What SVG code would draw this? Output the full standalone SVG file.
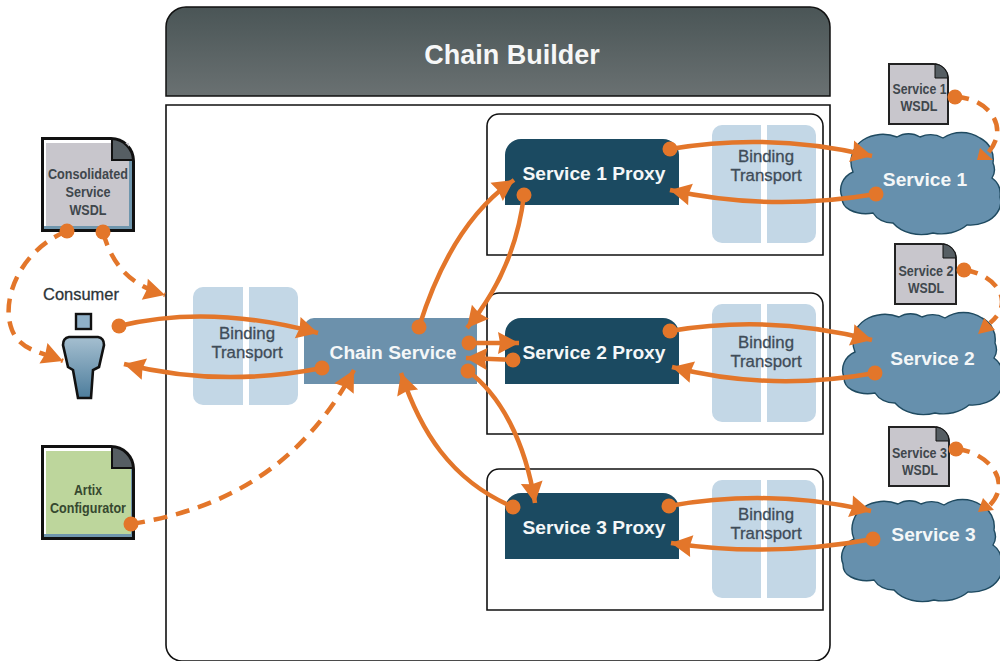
<svg xmlns="http://www.w3.org/2000/svg" width="1000" height="661" viewBox="0 0 1000 661">
<style>
text{font-family:"Liberation Sans",Arial,sans-serif;font-weight:bold;text-anchor:middle}
.wl{fill:#f4f7f8;font-size:19.2px}
.dk{fill:#3f474c;font-size:14.5px}
.gn{fill:#36482f;font-size:14.5px}
.bt{fill:#3f4c58;font-size:16.8px;font-weight:normal;stroke:#3f4c58;stroke-width:.3}
.frame{fill:#fff;stroke:#111;stroke-width:1.6}
.proxy{fill:#1b4a61}
.bind{fill:#c3d7e6}
.gap{fill:#fff}
.c{fill:none;stroke:#e3762a;stroke-width:4.5;marker-end:url(#h);marker-start:url(#d)}
.n{fill:none;stroke:#e3762a;stroke-width:4.5;marker-start:url(#d)}
.dash{stroke-dasharray:14 9}
.head{fill:#e3762a}
.cloud{fill:#6690ad;stroke:#1f4a60;stroke-width:1.4}
.fold{fill:#565e63;stroke:#111;stroke-width:2}
</style>
<defs>
<marker id="h" markerUnits="userSpaceOnUse" markerWidth="24" markerHeight="24" refX="22" refY="12" orient="auto" viewBox="0 0 24 24"><path d="M1 1 L22 12 L1 23 L3 12Z" fill="#e3762a"/></marker>
<marker id="d" markerUnits="userSpaceOnUse" markerWidth="16" markerHeight="16" refX="8" refY="8" viewBox="0 0 16 16"><circle cx="8" cy="8" r="7.5" fill="#e3762a"/></marker>
<linearGradient id="hd" x1="0" y1="0" x2="0" y2="1"><stop offset="0" stop-color="#4a5556"/><stop offset="1" stop-color="#6a7172"/></linearGradient>
<linearGradient id="pg" x1="0" y1="0" x2="0" y2="1"><stop offset="0" stop-color="#a5bfd0"/><stop offset="1" stop-color="#4d7d9c"/></linearGradient>
<path id="cl" d="M0 67 A22 20 0 0 1 11 42 A26 26 0 0 1 21 10 A34 30 0 0 1 55 7 A22 22 0 0 1 78 7 A24 22 0 0 1 101 8 A32 30 0 0 1 138 8 A24 24 0 0 1 151 33 A16 16 0 0 1 150 48 A20 20 0 0 1 158 67 A22 20 0 0 1 155 83 A30 22 0 0 1 125 95 A36 30 0 0 1 91 103 A34 26 0 0 1 51 93 A22 18 0 0 1 31 83 A30 24 0 0 1 8 80 A14 14 0 0 1 0 67Z"/>
</defs>

<rect width="1000" height="661" fill="#fff"/>

<g id="chain-builder">
<path d="M186 7H810A20 20 0 0 1 830 27V96H166V27A20 20 0 0 1 186 7Z" fill="url(#hd)" stroke="#111" stroke-width="1.5"/>
<text x="512" y="64" font-size="27" fill="#f6f7f7">Chain Builder</text>
</g>
<path id="chain-frame" class="frame" d="M166 105H830V645A16 16 0 0 1 814 661H182A16 16 0 0 1 166 645Z"/>

<g id="left-binding"><rect class="bind" x="193" y="287" width="105" height="118" rx="10"/><rect class="gap" x="243" y="287" width="6" height="118"/><text class="bt" x="247" y="339">Binding</text><text class="bt" x="247" y="358">Transport</text></g>

<g id="box-1"><path class="frame" d="M499 114H811A12 12 0 0 1 823 126V255H487V126A12 12 0 0 1 499 114Z"/><rect class="bind" x="712" y="125" width="104" height="118" rx="10"/><rect class="gap" x="761" y="125" width="6" height="118"/><text class="bt" x="766" y="162">Binding</text><text class="bt" x="766" y="181">Transport</text></g>
<g id="box-2"><path class="frame" d="M499 293H811A12 12 0 0 1 823 305V434H487V305A12 12 0 0 1 499 293Z"/><rect class="bind" x="712" y="304" width="104" height="118" rx="10"/><rect class="gap" x="761" y="304" width="6" height="118"/><text class="bt" x="766" y="348">Binding</text><text class="bt" x="766" y="367">Transport</text></g>
<g id="box-3"><path class="frame" d="M499 469H811A12 12 0 0 1 823 481V610H487V481A12 12 0 0 1 499 469Z"/><rect class="bind" x="712" y="480" width="104" height="118" rx="10"/><rect class="gap" x="761" y="480" width="6" height="118"/><text class="bt" x="766" y="520">Binding</text><text class="bt" x="766" y="539">Transport</text></g>

<g id="proxy-1"><path class="proxy" d="M505 205V155A16 16 0 0 1 521 139H663A16 16 0 0 1 679 155V205Z"/><text class="wl" x="594" y="180">Service 1 Proxy</text></g>
<g id="proxy-2"><path class="proxy" d="M505 384V334A16 16 0 0 1 521 318H663A16 16 0 0 1 679 334V384Z"/><text class="wl" x="594" y="359">Service 2 Proxy</text></g>
<g id="proxy-3"><path class="proxy" d="M505 559V509A16 16 0 0 1 521 493H663A16 16 0 0 1 679 509V559Z"/><text class="wl" x="594" y="534">Service 3 Proxy</text></g>

<g id="chain-service"><path d="M304 384V328A10 10 0 0 1 314 318H477V384Z" fill="#6c91ac"/><text class="wl" x="393" y="359">Chain Service</text></g>

<g id="consolidated-wsdl">
<path d="M41 137H111A24 24 0 0 1 135 161V232H41Z" fill="#111"/><path d="M44 140H112V161H132V229H44Z" fill="#6f96ad"/><path d="M44 140H112V226H44Z" fill="#fff"/><rect x="46" y="143" width="83" height="83" fill="#c8c6cc"/>
<path class="fold" d="M112 139A22 22 0 0 1 133 160H112Z"/>
<text class="dk" x="88" y="179" textLength="80" lengthAdjust="spacingAndGlyphs">Consolidated</text><text class="dk" x="88" y="197" textLength="45" lengthAdjust="spacingAndGlyphs">Service</text><text class="dk" x="88" y="215" textLength="37" lengthAdjust="spacingAndGlyphs">WSDL</text>
</g>
<g id="artix-configurator">
<path d="M41 445H111A24 24 0 0 1 135 469V540H41Z" fill="#111"/><path d="M44 448H112V469H132V537H44Z" fill="#6f96ad"/><path d="M44 448H112V534H44Z" fill="#fff"/><rect x="46" y="451" width="66" height="20" fill="#bdd69c"/><rect x="46" y="469" width="85" height="65" fill="#bdd69c"/>
<path class="fold" d="M112 447A22 22 0 0 1 133 468H112Z"/>
<text class="gn" x="88" y="495" textLength="28" lengthAdjust="spacingAndGlyphs">Artix</text><text class="gn" x="88" y="513" textLength="76" lengthAdjust="spacingAndGlyphs">Configurator</text>
</g>
<g id="consumer">
<text x="81" y="300" font-size="16.5" fill="#2c3438" style="font-weight:normal;stroke:#2c3438;stroke-width:.3" textLength="76" lengthAdjust="spacingAndGlyphs">Consumer</text>
<rect x="76" y="314" width="15" height="15" fill="#8fb0c8" stroke="#111" stroke-width="2.4"/>
<path d="M69 337H98Q104 338 104 345L99 367L93 370L91 398H78L73 370L68 367L63 345Q63 338 69 337Z" fill="url(#pg)" stroke="#111" stroke-width="2.6"/>
</g>

<g id="wsdl-1">
<path d="M888 63H933A16 16 0 0 1 949 79V125H888Z" fill="#222"/><path d="M890 65H935V78H947V123H890Z" fill="#c8c6cc"/>
<path class="fold" style="stroke-width:1" d="M935 64A14 14 0 0 1 948 78H935Z"/>
<text class="dk" x="919.5" y="94" textLength="54" lengthAdjust="spacingAndGlyphs">Service 1</text><text class="dk" x="919" y="111" textLength="37" lengthAdjust="spacingAndGlyphs">WSDL</text>
</g>
<g id="wsdl-2">
<path d="M894 243H941A16 16 0 0 1 957 259V305H894Z" fill="#222"/><path d="M896 245H943V258H955V303H896Z" fill="#c8c6cc"/>
<path class="fold" style="stroke-width:1" d="M943 244A14 14 0 0 1 956 258H943Z"/>
<text class="dk" x="926" y="276" textLength="55" lengthAdjust="spacingAndGlyphs">Service 2</text><text class="dk" x="926" y="293" textLength="36" lengthAdjust="spacingAndGlyphs">WSDL</text>
</g>
<g id="wsdl-3">
<path d="M888 426H934A16 16 0 0 1 950 442V487H888Z" fill="#222"/><path d="M890 428H936V441H948V485H890Z" fill="#c8c6cc"/>
<path class="fold" style="stroke-width:1" d="M936 427A14 14 0 0 1 949 441H936Z"/>
<text class="dk" x="919.5" y="458" textLength="55" lengthAdjust="spacingAndGlyphs">Service 3</text><text class="dk" x="920" y="475" textLength="36" lengthAdjust="spacingAndGlyphs">WSDL</text>
</g>

<g id="cloud-1"><use href="#cl" transform="translate(842 130)" class="cloud"/><text class="wl" x="925" y="186">Service 1</text></g>
<g id="cloud-2"><use href="#cl" transform="translate(844 310)" class="cloud"/><text class="wl" x="932.5" y="365">Service 2</text></g>
<g id="cloud-3"><use href="#cl" transform="translate(843 497)" class="cloud"/><text class="wl" x="933.5" y="541">Service 3</text></g>

<g id="connectors">
<path class="c" d="M119 326Q210 304 318 333"/>
<path class="c" d="M322 368Q220 388 124 364"/>
<path class="c dash" d="M67 231C20 250 0 300 12 330C20 350 40 352 63 361"/>
<path class="c dash" d="M103 232C112 265 130 285 165 295"/>
<path class="c dash" d="M131 524C220 510 300 470 354 370"/>
<path class="c" d="M419 327C440 260 470 210 514 180"/>
<path class="c" d="M524 195Q515 270 467 328"/>
<path class="c" d="M469 343H519"/>
<path class="c" d="M513 360L466 358"/>
<path class="c" d="M468 371C500 395 525 440 535 503"/>
<path class="c" d="M513 507C450 480 420 430 401 373"/>
<path class="c" d="M670 149Q770 132 872 156"/>
<path class="c" d="M876 194Q770 212 670 190"/>
<path class="c" d="M670 331Q770 314 872 340"/>
<path class="c" d="M875 373Q770 392 672 367"/>
<path class="c" d="M669 506Q770 488 871 511"/>
<path class="c" d="M873 539Q770 558 671 543"/>
<path class="n dash" d="M955 97C985 97 1012 125 988 153"/><polygon class="head" points="980,148 977,160 993,160"/>
<path class="n dash" d="M964 270C992 273 1018 300 990 323"/><polygon class="head" points="984,318 978,334 995,330"/>
<path class="n dash" d="M956 449C985 451 1014 480 990 505"/><polygon class="head" points="983,498 978,512 994,510"/>
</g>
</svg>
